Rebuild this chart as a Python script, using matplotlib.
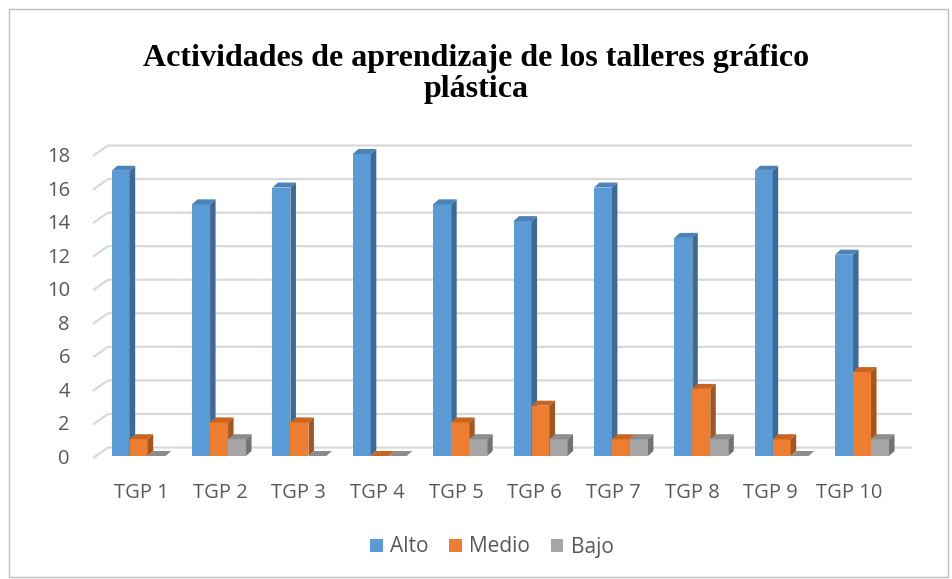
import matplotlib
matplotlib.use("Agg")
import matplotlib.pyplot as plt
from matplotlib.patches import Polygon, Rectangle, Patch
import numpy as np

categories = ["TGP 1", "TGP 2", "TGP 3", "TGP 4", "TGP 5",
              "TGP 6", "TGP 7", "TGP 8", "TGP 9", "TGP 10"]
alto = [17, 15, 16, 18, 15, 14, 16, 13, 17, 12]
medio = [1, 2, 2, 0, 2, 3, 1, 4, 1, 5]
bajo = [0, 1, 0, 0, 1, 1, 1, 1, 0, 1]
series_names = ["Alto", "Medio", "Bajo"]
yticks = list(range(0, 19, 2))

front = ["#5B9BD5", "#ED7D31", "#A5A5A5"]
side = ["#3D6A94", "#A5561F", "#737373"]
top = ["#4B82B8", "#C9651F", "#8C8C8C"]

W, H = 952, 579
fig = plt.figure(figsize=(W / 100, H / 100), dpi=100)

# front plane of the 3D box, in pixels (category 0 centred at c0)
step = 80.37
c0 = 138.7
x0, x1 = c0 - 0.5 * step, c0 + 9.5 * step
y0, y18 = 456, 154
ax = fig.add_axes([x0 / W, 1 - y0 / H, (x1 - x0) / W, (y0 - y18) / H])
ax.set_xlim(-0.5, 9.5)
ax.set_ylim(0, 18)
ax.axis("off")

pxx = (x1 - x0) / 10.0   # pixels per x unit
pxy = (y0 - y18) / 18.0  # pixels per y unit

def px2x(p):
    return (p - x0) / pxx - 0.5

# back wall gridlines
gl_front, gl_back, gl_right = px2x(93), px2x(108), px2x(912)
gdrop, grise = 2 / pxy, 8.5 / pxy
for v in yticks:
    ax.plot([gl_front, gl_back, gl_right], [v - gdrop, v + grise, v + grise],
            color="#D9D9D9", lw=1.6, clip_on=False, zorder=1,
            solid_capstyle="butt")
    ax.text(px2x(70), v - 3 / pxy, str(v), ha="right", va="center",
            fontsize=14.5, color="#595959", family="Open Sans")

# category labels sit on the front edge of the floor
lab_step = 78.6 / step
lab_off = 3 / pxx
for i, c in enumerate(categories):
    ax.text(i * lab_step + lab_off, -37 / pxy, c, ha="center", va="center",
            fontsize=14.5, color="#595959", family="Open Sans")

# 3D-ish bars
bw = 18 / pxx
dx, dy = 5.5 / pxx, 5.0 / pxy
z = 2
for i in range(len(categories)):
    for s, vals in enumerate([alto, medio, bajo]):
        v = vals[i]
        xl = i - 1.5 * bw + s * bw
        xrr = xl + bw
        yb = 0
        yt = v
        if v > 0:
            ax.add_patch(Rectangle((xl, yb), bw, v, facecolor=front[s],
                                   edgecolor="none", zorder=z, clip_on=False))
            ax.add_patch(Polygon([(xrr, yb), (xrr + dx, yb + dy),
                                  (xrr + dx, yt + dy), (xrr, yt)],
                                 facecolor=side[s], edgecolor="none",
                                 zorder=z, clip_on=False))
        ax.add_patch(Polygon([(xl, yt), (xl + dx, yt + dy),
                              (xrr + dx, yt + dy), (xrr, yt)],
                             facecolor=top[s], edgecolor="none",
                             zorder=z, clip_on=False))
        z += 1

fig.text(0.5, 1 - 74 / H,
         "Actividades de aprendizaje de los talleres gráfico\nplástica",
         ha="center", va="center", fontsize=23, fontweight="bold",
         family="Liberation Serif", linespacing=1.08)

handles = [Patch(facecolor=front[s], edgecolor="none") for s in range(3)]
fig.legend(handles, series_names, loc="center", ncol=3,
           bbox_to_anchor=(492 / W, 1 - 547 / H), frameon=False,
           prop={"family": "Open Sans", "size": 15}, labelcolor="#595959",
           handlelength=0.6, handleheight=0.6, handletextpad=0.35,
           columnspacing=1.0)

fig.add_artist(Rectangle((9 / W, 2 / H), 939 / W, 568 / H,
                         transform=fig.transFigure, fill=False,
                         edgecolor="#BFBFBF", lw=1))

fig.savefig("out.png", dpi=100)
